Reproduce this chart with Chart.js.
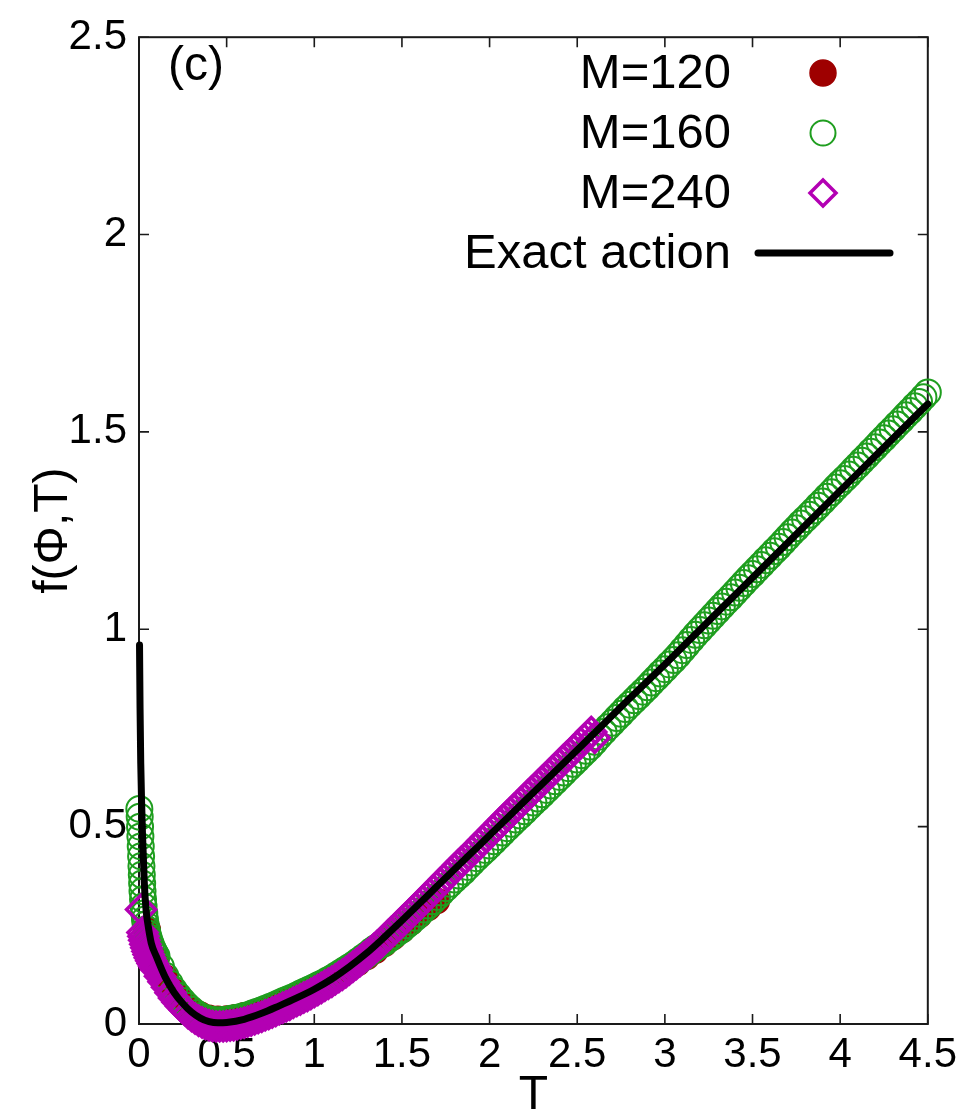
<!DOCTYPE html>
<html>
<head>
<meta charset="utf-8">
<script src="https://cdn.jsdelivr.net/npm/chart.js@4.4.1/dist/chart.umd.min.js"></script>
<style>
  html, body { margin: 0; padding: 0; background: #fff; }
  canvas { display: block; }
</style>
</head>
<body>
<canvas id="chart" width="963" height="1113"></canvas>
<script>
'use strict';

// Exact action f(Phi, T)
var exactT = [0.003, 0.006, 0.01, 0.015, 0.02, 0.03, 0.04, 0.05, 0.07, 0.1, 0.15, 0.2, 0.25, 0.3, 0.35,
    0.4, 0.45, 0.5, 0.6, 0.7, 0.8, 0.9, 1.0, 1.1, 1.2, 1.3, 1.4, 1.5, 1.6, 1.7, 1.8, 1.9, 2.0,
    2.2, 2.4, 2.6, 2.8, 3.0, 3.2, 3.4, 3.6, 3.8, 4.0, 4.2, 4.4, 4.5];
var exactF = [0.96, 0.80, 0.66, 0.56, 0.48, 0.36, 0.29, 0.255, 0.205, 0.170, 0.118, 0.080, 0.052, 0.030, 0.015,
    0.006, 0.003, 0.004, 0.012, 0.027, 0.046, 0.066, 0.088, 0.114, 0.145, 0.180, 0.220, 0.262, 0.305, 0.349, 0.392, 0.435, 0.478,
    0.565, 0.651, 0.738, 0.825, 0.911, 0.999, 1.087, 1.175, 1.263, 1.351, 1.439, 1.527, 1.571];

// M=120
var m120T = [0.05, 0.10, 0.15, 0.20, 0.25, 0.30, 0.35, 0.40, 0.45, 0.50, 0.55, 0.60, 0.65, 0.70, 0.75, 0.80, 0.85,
    0.90, 0.95, 1.00, 1.05, 1.10, 1.15, 1.20, 1.25, 1.30, 1.35, 1.40, 1.45, 1.50, 1.55, 1.60, 1.65, 1.70];
var m120F = [0.240, 0.165, 0.118, 0.083, 0.057, 0.037, 0.024, 0.016, 0.013, 0.014, 0.017, 0.022, 0.028, 0.035, 0.043, 0.052, 0.061,
    0.071, 0.081, 0.091, 0.102, 0.114, 0.127, 0.140, 0.155, 0.170, 0.186, 0.203, 0.220, 0.238, 0.257, 0.276, 0.294, 0.312];

// M=160
var m160T = [0.002, 0.004, 0.006, 0.008, 0.010, 0.012, 0.014, 0.016, 0.018, 0.020, 0.023, 0.026,
    0.030, 0.034, 0.038, 0.043, 0.048, 0.054, 0.060, 0.067, 0.075, 0.083, 0.091,
    0.100, 0.125, 0.150, 0.175, 0.200, 0.225, 0.250, 0.275, 0.300, 0.325, 0.350, 0.375,
    0.400, 0.425, 0.450, 0.475, 0.500, 0.525, 0.550, 0.575, 0.600, 0.625, 0.650, 0.675,
    0.700, 0.725, 0.750, 0.775, 0.800, 0.825, 0.850, 0.875, 0.900, 0.925, 0.950, 0.975,
    1.000, 1.025, 1.050, 1.075, 1.100, 1.125, 1.150, 1.175, 1.200, 1.225, 1.250, 1.275,
    1.300, 1.325, 1.350, 1.375, 1.400, 1.425, 1.450, 1.475, 1.500, 1.525, 1.550, 1.575,
    1.600, 1.625, 1.650, 1.675, 1.700, 1.725, 1.750, 1.775, 1.800, 1.825, 1.850, 1.875,
    1.900, 1.925, 1.950, 1.975, 2.000, 2.025, 2.050, 2.075, 2.100, 2.125, 2.150, 2.175,
    2.200, 2.225, 2.250, 2.275, 2.300, 2.325, 2.350, 2.375, 2.400, 2.425, 2.450, 2.475,
    2.500, 2.525, 2.550, 2.575, 2.600, 2.625, 2.650, 2.675, 2.700, 2.725, 2.750, 2.775,
    2.800, 2.825, 2.850, 2.875, 2.900, 2.925, 2.950, 2.975, 3.000, 3.025, 3.050, 3.075,
    3.100, 3.125, 3.150, 3.175, 3.200, 3.225, 3.250, 3.275, 3.300, 3.325, 3.350, 3.375,
    3.400, 3.425, 3.450, 3.475, 3.500, 3.525, 3.550, 3.575, 3.600, 3.625, 3.650, 3.675,
    3.700, 3.725, 3.750, 3.775, 3.800, 3.825, 3.850, 3.875, 3.900, 3.925, 3.950, 3.975,
    4.000, 4.025, 4.050, 4.075, 4.100, 4.125, 4.150, 4.175, 4.200, 4.225, 4.250, 4.275,
    4.300, 4.325, 4.350, 4.375, 4.400, 4.425, 4.450, 4.475, 4.500];
var m160F = [0.545, 0.525, 0.500, 0.475, 0.450, 0.425, 0.400, 0.378, 0.356, 0.336, 0.316, 0.298,
    0.280, 0.265, 0.252, 0.240, 0.230, 0.220, 0.211, 0.202, 0.193, 0.185, 0.178,
    0.172, 0.145, 0.122, 0.103, 0.086, 0.071, 0.058, 0.046, 0.036, 0.027, 0.020, 0.015,
    0.012, 0.010, 0.009, 0.010, 0.011, 0.013, 0.015, 0.017, 0.020, 0.023, 0.027, 0.031,
    0.035, 0.039, 0.044, 0.048, 0.053, 0.058, 0.063, 0.067, 0.072, 0.078, 0.083, 0.088,
    0.093, 0.099, 0.104, 0.110, 0.116, 0.123, 0.130, 0.137, 0.144, 0.151, 0.159, 0.167,
    0.175, 0.184, 0.192, 0.199, 0.206, 0.215, 0.224, 0.232, 0.240, 0.250, 0.259, 0.269,
    0.279, 0.290, 0.300, 0.311, 0.322, 0.333, 0.344, 0.355, 0.366, 0.376, 0.386, 0.398,
    0.409, 0.420, 0.431, 0.441, 0.452, 0.463, 0.474, 0.485, 0.496, 0.507, 0.518, 0.528,
    0.539, 0.550, 0.561, 0.571, 0.582, 0.593, 0.604, 0.615, 0.626, 0.637, 0.648, 0.659,
    0.670, 0.681, 0.692, 0.703, 0.715, 0.728, 0.740, 0.752, 0.763, 0.775, 0.786, 0.798,
    0.809, 0.820, 0.831, 0.842, 0.853, 0.865, 0.876, 0.888, 0.899, 0.911, 0.922, 0.934,
    0.947, 0.960, 0.973, 0.986, 0.998, 1.010, 1.022, 1.034, 1.046, 1.058, 1.070, 1.081,
    1.093, 1.105, 1.117, 1.129, 1.140, 1.152, 1.163, 1.175, 1.186, 1.198, 1.209, 1.221,
    1.233, 1.245, 1.256, 1.268, 1.279, 1.290, 1.301, 1.313, 1.324, 1.336, 1.347, 1.359,
    1.370, 1.381, 1.392, 1.404, 1.415, 1.427, 1.438, 1.450, 1.461, 1.473, 1.484, 1.496,
    1.507, 1.519, 1.530, 1.542, 1.553, 1.565, 1.576, 1.588, 1.600];

// M=240
var m240T = [0.012, 0.020, 0.025, 0.030, 0.036, 0.042, 0.048, 0.055, 0.062, 0.070, 0.078, 0.086, 0.094,
    0.10, 0.12, 0.14, 0.16, 0.18, 0.20, 0.22, 0.24, 0.26, 0.28, 0.30, 0.32, 0.34, 0.36, 0.38,
    0.40, 0.42, 0.44, 0.46, 0.48, 0.50, 0.52, 0.54, 0.56, 0.58, 0.60, 0.62, 0.64, 0.66, 0.68,
    0.70, 0.72, 0.74, 0.76, 0.78, 0.80, 0.82, 0.84, 0.86, 0.88, 0.90, 0.92, 0.94, 0.96, 0.98,
    1.00, 1.02, 1.04, 1.06, 1.08, 1.10, 1.12, 1.14, 1.16, 1.18, 1.20, 1.22, 1.24, 1.26, 1.28,
    1.30, 1.32, 1.34, 1.36, 1.38, 1.40, 1.42, 1.44, 1.46, 1.48, 1.50, 1.52, 1.54, 1.56, 1.58,
    1.60, 1.62, 1.64, 1.66, 1.68, 1.70, 1.72, 1.74, 1.76, 1.78, 1.80, 1.82, 1.84, 1.86, 1.88,
    1.90, 1.92, 1.94, 1.96, 1.98, 2.00, 2.02, 2.04, 2.06, 2.08, 2.10, 2.12, 2.14, 2.16, 2.18,
    2.20, 2.22, 2.24, 2.26, 2.28, 2.30, 2.32, 2.34, 2.36, 2.38, 2.40, 2.42, 2.44, 2.46, 2.48,
    2.50, 2.52, 2.54, 2.56, 2.58, 2.60];
var m240F = [0.290, 0.232, 0.222, 0.212, 0.202, 0.193, 0.184, 0.176, 0.168, 0.160, 0.153, 0.147, 0.142,
    0.137, 0.121, 0.107, 0.093, 0.079, 0.066, 0.055, 0.045, 0.036, 0.027, 0.020, 0.014, 0.008, 0.004, 0.000,
    -0.003, -0.005, -0.006, -0.006, -0.006, -0.005, -0.004, -0.003, -0.001, 0.001, 0.003, 0.006, 0.009, 0.012, 0.015,
    0.018, 0.022, 0.025, 0.029, 0.033, 0.037, 0.041, 0.045, 0.049, 0.054, 0.058, 0.062, 0.067, 0.071, 0.076,
    0.081, 0.086, 0.091, 0.097, 0.102, 0.107, 0.113, 0.119, 0.125, 0.131, 0.138, 0.145, 0.152, 0.159, 0.167,
    0.174, 0.182, 0.190, 0.198, 0.206, 0.215, 0.224, 0.233, 0.241, 0.250, 0.259, 0.268, 0.277, 0.285, 0.294,
    0.303, 0.312, 0.321, 0.330, 0.339, 0.348, 0.357, 0.366, 0.375, 0.384, 0.393, 0.402, 0.411, 0.419, 0.428,
    0.437, 0.446, 0.455, 0.464, 0.473, 0.482, 0.491, 0.500, 0.509, 0.518, 0.527, 0.536, 0.545, 0.553, 0.562,
    0.571, 0.580, 0.589, 0.597, 0.606, 0.615, 0.624, 0.633, 0.641, 0.650, 0.659, 0.668, 0.677, 0.685, 0.694,
    0.703, 0.712, 0.721, 0.730, 0.740, 0.725];

var xTickValues = [0, 0.5, 1, 1.5, 2, 2.5, 3, 3.5, 4, 4.5];
var yTickValues = [0, 0.5, 1, 1.5, 2, 2.5];

var FONT = '"Liberation Sans", Arial, Helvetica, sans-serif';

/**
 * Pair two value lists into {x, y} points.
 * @param {number[]} xs x values
 * @param {number[]} ys y values
 * @returns {object[]}
 */
function pairs(xs, ys) {
    return xs.map(function(x, i) {
        return {x: x, y: ys[i]};
    });
}

/**
 * Draw one key sample with the style of its dataset.
 */
function drawMarker(ctx, ds, x, y) {
    ctx.save();
    if (ds.showLine) {
        ctx.strokeStyle = ds.borderColor;
        ctx.lineWidth = ds.borderWidth;
        ctx.lineCap = 'round';
        ctx.beginPath();
        ctx.moveTo(x - 65, y);
        ctx.lineTo(x + 67, y);
        ctx.stroke();
    } else {
        var r = ds.keyRadius;
        ctx.lineWidth = ds.pointBorderWidth;
        ctx.strokeStyle = ds.pointBorderColor;
        ctx.fillStyle = ds.pointBackgroundColor;
        ctx.beginPath();
        if (ds.pointStyle === 'rectRot') {
            ctx.moveTo(x, y - r);
            ctx.lineTo(x + r, y);
            ctx.lineTo(x, y + r);
            ctx.lineTo(x - r, y);
            ctx.closePath();
        } else {
            ctx.arc(x, y, r, 0, Math.PI * 2);
        }
        ctx.fill();
        ctx.stroke();
    }
    ctx.restore();
}

/**
 * Plain number label: 0, 0.5, 1, 1.5 ...
 */
function tickLabel(value) {
    return String(value);
}

// border with inward ticks on all four sides, key and panel tag
var framePlugin = {
    id: 'frame',
    beforeDatasetsDraw: function(chart) {
        var ctx = chart.ctx,
            a = chart.chartArea,
            xs = chart.scales.x,
            ys = chart.scales.y,
            len = 10;
        ctx.save();
        ctx.strokeStyle = '#1a1a1a';
        ctx.lineWidth = 2;
        ctx.strokeRect(a.left, a.top, a.right - a.left, a.bottom - a.top);
        ctx.lineWidth = 1.6;
        ctx.beginPath();
        xTickValues.forEach(function(v) {
            var px = xs.getPixelForValue(v);
            ctx.moveTo(px, a.bottom);
            ctx.lineTo(px, a.bottom - len);
            ctx.moveTo(px, a.top);
            ctx.lineTo(px, a.top + len);
        });
        yTickValues.forEach(function(v) {
            var py = ys.getPixelForValue(v);
            ctx.moveTo(a.left, py);
            ctx.lineTo(a.left + len, py);
            ctx.moveTo(a.right, py);
            ctx.lineTo(a.right - len, py);
        });
        ctx.stroke();
        ctx.restore();
    },
    afterDraw: function(chart) {
        var ctx = chart.ctx;
        ctx.save();
        ctx.fillStyle = '#000';

        ctx.font = '48px ' + FONT;
        ctx.textAlign = 'left';
        ctx.textBaseline = 'alphabetic';
        ctx.fillText('(c)', 168, 80);

        ctx.font = '49px ' + FONT;
        ctx.textAlign = 'right';
        ctx.textBaseline = 'middle';
        chart.data.datasets.forEach(function(ds, i) {
            var y = 73 + i * 60;
            ctx.fillText(ds.label, 731, y + 1);
            drawMarker(ctx, ds, 823, y);
        });
        ctx.restore();
    }
};

var green = '#1f9e1f',
    purple = '#b300b3',
    darkRed = '#9e0000';

var chart = new Chart(document.getElementById('chart'), {
    type: 'scatter',
    data: {
        datasets: [{
            label: 'M=120',
            data: pairs(m120T, m120F),
            order: 3,
            pointStyle: 'circle',
            pointRadius: 12.5,
            keyRadius: 13,
            pointBorderWidth: 1.5,
            pointBackgroundColor: darkRed,
            pointBorderColor: darkRed,
            showLine: false,
            clip: false
        }, {
            label: 'M=160',
            data: pairs(m160T, m160F),
            order: 2,
            pointStyle: 'circle',
            pointRadius: 13,
            keyRadius: 12.5,
            pointBorderWidth: 2,
            pointBackgroundColor: 'rgba(255,255,255,0)',
            pointBorderColor: green,
            showLine: false,
            clip: false
        }, {
            label: 'M=240',
            data: pairs(m240T, m240F),
            order: 1,
            pointStyle: 'rectRot',
            pointRadius: 14.5,
            keyRadius: 13,
            pointBorderWidth: 3.5,
            pointBackgroundColor: 'rgba(255,255,255,0)',
            pointBorderColor: purple,
            showLine: false,
            clip: false
        }, {
            label: 'Exact action',
            data: pairs(exactT, exactF),
            order: 0,
            showLine: true,
            borderColor: '#000',
            borderWidth: 7,
            borderCapStyle: 'round',
            cubicInterpolationMode: 'monotone',
            pointRadius: 0,
            clip: false
        }]
    },
    options: {
        responsive: false,
        devicePixelRatio: 1,
        animation: false,
        events: [],
        layout: {padding: {left: 0, right: 33, top: 34, bottom: 0}},
        plugins: {legend: {display: false}, tooltip: {enabled: false}},
        scales: {
            x: {
                type: 'linear',
                min: 0,
                max: 4.5,
                afterFit: function(s) { s.height = 89; },
                afterBuildTicks: function(s) {
                    s.ticks = xTickValues.map(function(v) { return {value: v}; });
                },
                grid: {display: false, drawTicks: false},
                border: {display: false},
                ticks: {
                    color: '#000',
                    padding: 6,
                    maxRotation: 0,
                    autoSkip: false,
                    callback: tickLabel,
                    font: {family: FONT, size: 42}
                },
                title: {
                    display: true,
                    text: 'T',
                    color: '#000',
                    padding: {top: 0, bottom: 0},
                    font: {family: FONT, size: 48, lineHeight: 0.7}
                }
            },
            y: {
                type: 'linear',
                min: 0,
                max: 2.5,
                afterFit: function(s) { s.width = 139; },
                afterBuildTicks: function(s) {
                    s.ticks = yTickValues.map(function(v) { return {value: v}; });
                },
                grid: {display: false, drawTicks: false},
                border: {display: false},
                ticks: {
                    color: '#000',
                    padding: 12,
                    callback: tickLabel,
                    font: {family: FONT, size: 42}
                },
                title: {
                    display: true,
                    text: 'f(Φ,T)',
                    color: '#000',
                    padding: {top: 25, bottom: 0},
                    font: {family: FONT, size: 48, lineHeight: 1.2}
                }
            }
        }
    },
    plugins: [framePlugin]
});
</script>
</body>
</html>
